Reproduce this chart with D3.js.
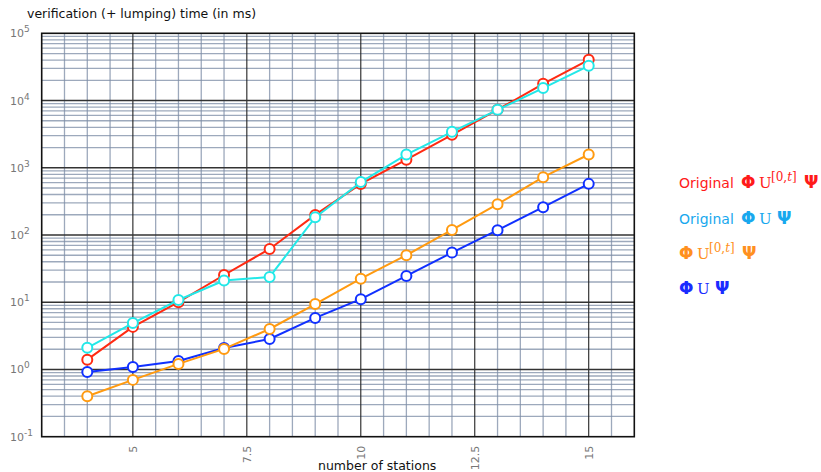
<!DOCTYPE html>
<html>
<head>
<meta charset="utf-8">
<script src="https://cdn.jsdelivr.net/npm/d3@7"></script>
<style>
  body { margin: 0; background: #fff; }
  svg { display: block; font-family: "DejaVu Sans", sans-serif; }
</style>
</head>
<body>
<div id="chart"></div>
<script>
// Datos
const stations = [4, 5, 6, 7, 8, 9, 10, 11, 12, 13, 14, 15];
const origUntilBounded = [1.4, 4.3, 10, 25.4, 62, 199, 575, 1320, 3090, 7300, 17700, 40300];
const origUntil = [2.1, 4.9, 10.8, 21, 23.8, 183, 612, 1570, 3420, 7270, 15300, 32800];
const untilBounded = [0.40, 0.70, 1.21, 2.02, 4.0, 9.4, 22.4, 50, 119, 287, 725, 1575];
const until = [0.92, 1.09, 1.34, 2.09, 2.84, 5.84, 11.1, 24.6, 54.7, 118, 259, 576];

const xTicks = [5, 7.5, 10, 12.5, 15];
const yExponents = [-1, 0, 1, 2, 3, 4, 5];

// Configuracion
const W = 821, H = 472;
const margin = {top: 33.3, left: 41.7, right: 821 - 634.3, bottom: 472 - 436.7};
const width = W - margin.left - margin.right,
      height = H - margin.top - margin.bottom;

const x = d3.scaleLinear().domain([3, 16]).range([0, width]);
const y = d3.scaleLog().domain([0.1, 1e5]).range([height, 0]);

const svg = d3.select("#chart").append("svg")
  .attr("width", W).attr("height", H);

const g = svg.append("g")
  .attr("transform", `translate(${margin.left},${margin.top})`);

// rejilla menor vertical (cada 0.5)
const xMinor = d3.range(3.5, 16, 0.5).filter(v => !xTicks.includes(v));
g.selectAll(".vminor").data(xMinor).enter().append("line")
  .attr("x1", d => x(d)).attr("x2", d => x(d))
  .attr("y1", 0).attr("y2", height)
  .attr("stroke", "#7d8da6").attr("stroke-width", 1.3).attr("opacity", 0.75);

// rejilla menor horizontal (2..9 x 10^k)
const yMinor = [];
yExponents.slice(0, -1).forEach(e => {
  for (let m = 2; m <= 9; m++) yMinor.push(m * Math.pow(10, e));
});
g.selectAll(".hminor").data(yMinor).enter().append("line")
  .attr("x1", 0).attr("x2", width)
  .attr("y1", d => y(d)).attr("y2", d => y(d))
  .attr("stroke", "#7d8da6").attr("stroke-width", 1.3).attr("opacity", 0.75);

// rejilla mayor
g.selectAll(".vmajor").data(xTicks).enter().append("line")
  .attr("x1", d => x(d)).attr("x2", d => x(d))
  .attr("y1", 0).attr("y2", height)
  .attr("stroke", "#222").attr("stroke-width", 1.1);

g.selectAll(".hmajor").data(yExponents.slice(1, -1)).enter().append("line")
  .attr("x1", 0).attr("x2", width)
  .attr("y1", d => y(Math.pow(10, d))).attr("y2", d => y(Math.pow(10, d)))
  .attr("stroke", "#333").attr("stroke-width", 1.6);

// marco
g.append("rect")
  .attr("width", width).attr("height", height)
  .attr("fill", "none").attr("stroke", "#111").attr("stroke-width", 1.6);

// etiquetas del eje y
const yl = svg.append("g").attr("fill", "#777").attr("font-size", 11);
yExponents.forEach(e => {
  const t = yl.append("text")
    .attr("x", 10)
    .attr("y", margin.top + y(Math.pow(10, e)) + 4);
  t.append("tspan").text("10");
  t.append("tspan").attr("dy", -5).attr("font-size", 9).text(e);
});

// etiquetas del eje x (rotadas)
svg.append("g").selectAll("text").data(xTicks).enter().append("text")
  .attr("transform", d => `translate(${margin.left + x(d) + 4},${margin.top + height + 9}) rotate(-90)`)
  .attr("text-anchor", "end")
  .attr("fill", "#777").attr("font-size", 11)
  .text(d => d);

// titulos
svg.append("text").attr("x", 27).attr("y", 18)
  .attr("font-size", 12.5).attr("fill", "#111")
  .text("verification (+ lumping) time (in ms)");

svg.append("text").attr("x", 318).attr("y", 470)
  .attr("font-size", 12.5).attr("fill", "#111")
  .text("number of stations");

// series
const series = [
  {vals: until, color: "#1030ff"},
  {vals: untilBounded, color: "#ff9a10"},
  {vals: origUntilBounded, color: "#ff2a12"},
  {vals: origUntil, color: "#22e8e8"}
];

const line = d3.line().x(d => x(d[0])).y(d => y(d[1]));

series.forEach(s => {
  const pts = stations.map((st, i) => [st, s.vals[i]]);
  g.append("path").datum(pts)
    .attr("d", line)
    .attr("fill", "none").attr("stroke", s.color).attr("stroke-width", 2);
  g.selectAll(null).data(pts).enter().append("circle")
    .attr("cx", d => x(d[0])).attr("cy", d => y(d[1]))
    .attr("r", 5)
    .attr("fill", "#fff").attr("stroke", s.color).attr("stroke-width", 2);
});

// leyenda
const legend = [
  {orig: true, bounded: true, color: "#ff1a1a", y: 188},
  {orig: true, bounded: false, color: "#18a8ee", y: 224},
  {orig: false, bounded: true, color: "#ff9020", y: 259},
  {orig: false, bounded: false, color: "#1a2cff", y: 294}
];

const serif = "DejaVu Serif, serif";
legend.forEach(l => {
  const lg = svg.append("g").attr("fill", l.color);
  let x0 = 679;
  if (l.orig) {
    lg.append("text").attr("x", x0).attr("y", l.y).attr("font-size", 14).text("Original");
    x0 = 741;
  }
  lg.append("text").attr("x", x0).attr("y", l.y)
    .attr("font-size", 17).attr("font-weight", "bold").text("Φ");
  lg.append("text").attr("x", x0 + 18).attr("y", l.y)
    .attr("font-size", 15).attr("font-family", serif).text("U");
  let xp = x0 + 36;
  if (l.bounded) {
    const sup = lg.append("text").attr("x", x0 + 30).attr("y", l.y - 7)
      .attr("font-size", 12).attr("font-family", serif);
    sup.append("tspan").text("[0,");
    sup.append("tspan").attr("font-style", "italic").text("t");
    sup.append("tspan").text("]");
    xp = x0 + 63;
  }
  lg.append("text").attr("x", xp).attr("y", l.y)
    .attr("font-size", 17).attr("font-weight", "bold").text("Ψ");
});
</script>
</body>
</html>
